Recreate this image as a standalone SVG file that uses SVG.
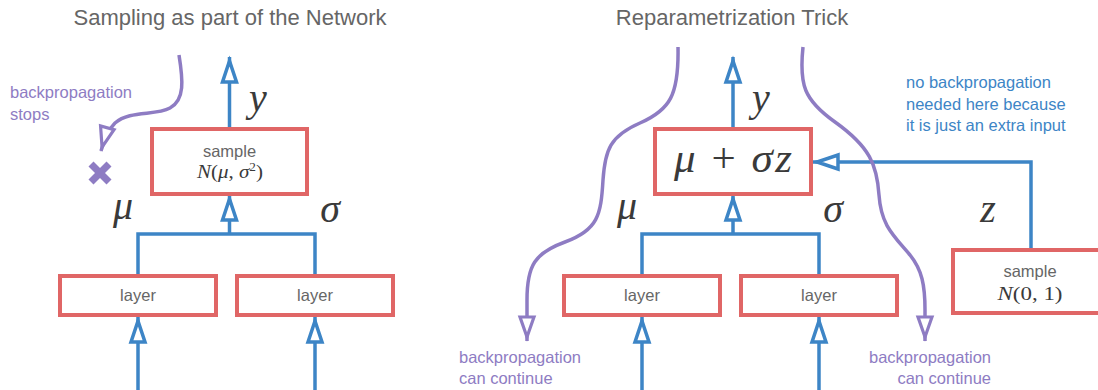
<svg xmlns="http://www.w3.org/2000/svg" width="1098" height="390" viewBox="0 0 1098 390">
  <style>
    .title { font-family: "Liberation Sans", Arial, sans-serif; font-size: 22px; fill: #666666; text-anchor: middle; }
    .lbl { font-family: "Liberation Sans", Arial, sans-serif; font-size: 16.5px; fill: #666666; text-anchor: middle; }
    .math { font-family: "Liberation Serif", "DejaVu Serif", serif; font-style: italic; fill: #3a3a3a; text-anchor: middle; }
    .up { font-style: normal; }
    .note-p { font-family: "Liberation Sans", Arial, sans-serif; font-size: 16.5px; fill: #8e7cc3; }
    .note-b { font-family: "Liberation Sans", Arial, sans-serif; font-size: 16.5px; fill: #3d85c6; }
    .box { fill: #ffffff; stroke: #e06666; stroke-width: 4; }
    .flow { fill: none; stroke: #3d85c6; stroke-width: 3.5; }
    .grad { fill: none; stroke: #8e7cc3; stroke-width: 3.5; }
  </style>
  <defs>
    <marker id="head-blue" markerUnits="userSpaceOnUse" markerWidth="40" markerHeight="30" refX="25" refY="0" orient="auto" overflow="visible">
      <path d="M0,-7 L21,0 L0,7 Z" fill="#ffffff" stroke="#3d85c6" stroke-width="3.5"/>
    </marker>
    <marker id="head-purple" markerUnits="userSpaceOnUse" markerWidth="40" markerHeight="30" refX="24" refY="0" orient="auto" overflow="visible">
      <path d="M0,-7 L20,0 L0,7 Z" fill="#ffffff" stroke="#8e7cc3" stroke-width="3.2"/>
    </marker>
  </defs>

  <rect width="1098" height="390" fill="#ffffff"/>

  <!-- titles -->
  <text class="title" x="230" y="25">Sampling as part of the Network</text>
  <text class="title" x="732" y="25">Reparametrization Trick</text>

  <!-- connectors -->
  <g id="connectors">
    <!-- left panel -->
    <path class="flow" d="M229.5,129 V57" marker-end="url(#head-blue)"/>
    <path class="flow" d="M138,276 V234 H315 V276"/>
    <path class="flow" d="M229.5,234 V195" marker-end="url(#head-blue)"/>
    <path class="flow" d="M138,390 V317" marker-end="url(#head-blue)"/>
    <path class="flow" d="M315,390 V317" marker-end="url(#head-blue)"/>
    <path class="grad" d="M179,55 C183,80 185,100 170,108 C155,116 130,110 115,123 C108,130 104,140 101,151" marker-end="url(#head-purple)"/>
    <g stroke="#8e7cc3" stroke-width="7">
      <line x1="91" y1="164" x2="109" y2="182"/>
      <line x1="109" y1="164" x2="91" y2="182"/>
    </g>

    <!-- right panel -->
    <path class="flow" d="M733,129 V57" marker-end="url(#head-blue)"/>
    <path class="flow" d="M642,276 V234 H819 V276"/>
    <path class="flow" d="M733,234 V195" marker-end="url(#head-blue)"/>
    <path class="flow" d="M642,390 V317" marker-end="url(#head-blue)"/>
    <path class="flow" d="M819,390 V317" marker-end="url(#head-blue)"/>
    <path class="flow" d="M1031,250 V162 H813" marker-end="url(#head-blue)"/>
    <path class="grad" d="M678,47 C679,95 670,110 640,123 C610,136 605,150 603,180 C601,215 598,230 565,242 C535,253 527,265 527,300 L527,341" marker-end="url(#head-purple)"/>
    <path class="grad" d="M803,47 C799,85 804,100 835,122 C870,147 877,165 879,195 C881,225 893,235 910,255 C922,270 925,285 925,310 L925,341" marker-end="url(#head-purple)"/>
  </g>

  <!-- left panel nodes -->
  <g id="sample-left">
    <rect class="box" x="152" y="129" width="155" height="65"/>
    <text class="lbl" x="229.5" y="157">sample</text>
    <text class="math" x="230" y="178" font-size="19" textLength="66" lengthAdjust="spacingAndGlyphs">N<tspan class="up">(</tspan>μ<tspan class="up">, </tspan>σ<tspan class="up" font-size="12" dy="-7">2</tspan><tspan class="up" dy="7">)</tspan></text>
  </g>
  <g id="layer-left-a">
    <rect class="box" x="60" y="276" width="156" height="39"/>
    <text class="lbl" x="138" y="301">layer</text>
  </g>
  <g id="layer-left-b">
    <rect class="box" x="237" y="276" width="156" height="39"/>
    <text class="lbl" x="315" y="301">layer</text>
  </g>
  <g id="labels-left">
    <text class="math" x="258" y="111" font-size="40">y</text>
    <text class="math" x="123" y="219" font-size="40">μ</text>
    <text class="math" x="330" y="222" font-size="40">σ</text>
    <text class="note-p" x="10" y="98">backpropagation</text>
    <text class="note-p" x="10" y="120">stops</text>
  </g>

  <!-- right panel nodes -->
  <g id="reparam">
    <rect class="box" x="655" y="129" width="156" height="65"/>
    <text class="math" x="733" y="172" font-size="43" textLength="118" lengthAdjust="spacing">μ <tspan class="up">+</tspan> σz</text>
  </g>
  <g id="layer-right-a">
    <rect class="box" x="564" y="276" width="156" height="39"/>
    <text class="lbl" x="642" y="301">layer</text>
  </g>
  <g id="layer-right-b">
    <rect class="box" x="741" y="276" width="156" height="39"/>
    <text class="lbl" x="819" y="301">layer</text>
  </g>
  <g id="sample-right">
    <rect class="box" x="953" y="250" width="154" height="63"/>
    <text class="lbl" x="1030" y="277">sample</text>
    <text class="math" x="1030" y="300" font-size="19" textLength="65" lengthAdjust="spacingAndGlyphs">N<tspan class="up">(0, 1)</tspan></text>
  </g>
  <g id="labels-right">
    <text class="math" x="761" y="111" font-size="40">y</text>
    <text class="math" x="627" y="219" font-size="40">μ</text>
    <text class="math" x="833" y="222" font-size="40">σ</text>
    <text class="math" x="988" y="222" font-size="40">z</text>
    <text class="note-b" x="906" y="88">no backpropagation</text>
    <text class="note-b" x="906" y="110">needed here because</text>
    <text class="note-b" x="906" y="131">it is just an extra input</text>
    <text class="note-p" x="459" y="363">backpropagation</text>
    <text class="note-p" x="459" y="384">can continue</text>
    <text class="note-p" x="991" y="363" text-anchor="end">backpropagation</text>
    <text class="note-p" x="991" y="384" text-anchor="end">can continue</text>
  </g>
</svg>
